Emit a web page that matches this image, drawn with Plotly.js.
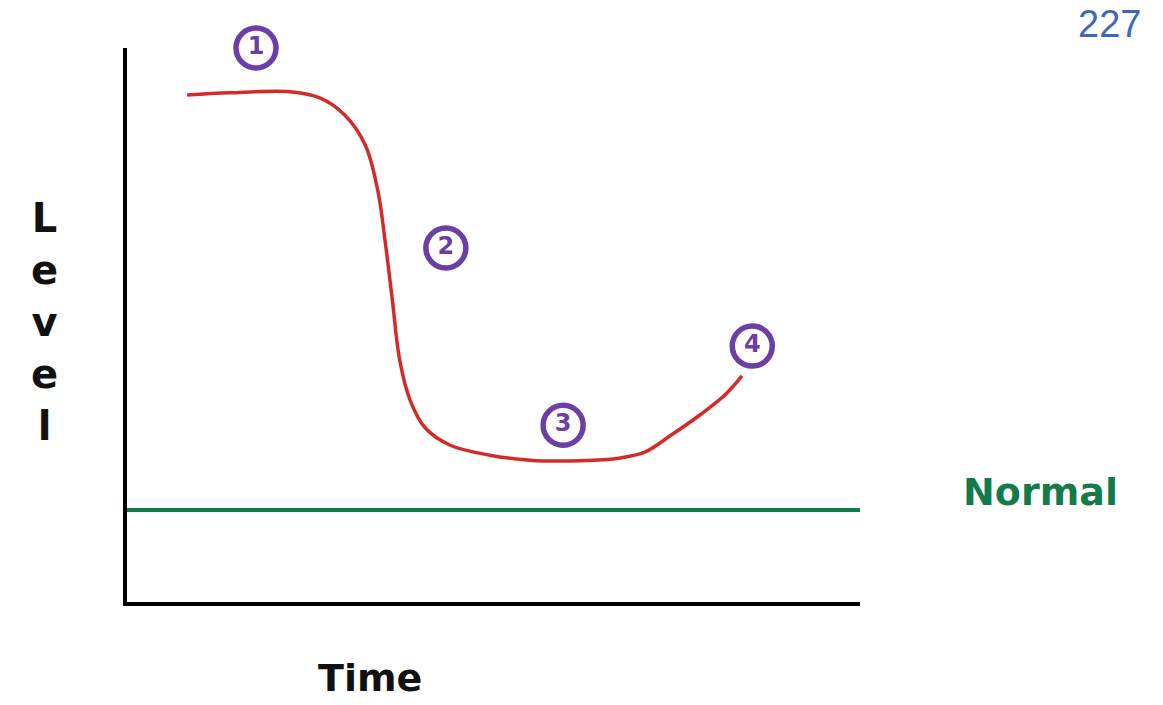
<!DOCTYPE html>
<html>
<head>
<meta charset="utf-8">
<script src="https://cdn.plot.ly/plotly-3.0.1.min.js"></script>
<style>html,body{margin:0;padding:0;background:#fff;}#chart{width:1163px;height:705px;}</style>
</head>
<body>
<div id="chart"></div>
<script>
// Level curve over time (arbitrary units 0-100)
const curveTime  = [8.2, 14.0, 22.2, 26.3, 29.7, 32.5, 34.2, 35.2, 36.2, 37.2, 38.6, 40.7, 44.1, 49.5, 55.0, 61.8, 67.3, 70.7, 74.1, 78.2, 81.6, 83.9];
const curveLevel = [91.5, 91.9, 92.1, 91.0, 87.9, 82.5, 74.4, 65.3, 54.5, 43.7, 36.5, 31.4, 28.3, 26.5, 25.6, 25.5, 26.0, 27.1, 30.0, 33.8, 37.4, 40.8];
const normalTime  = [0, 100];
const normalLevel = [16.6, 16.6];
// Phase markers
const phaseLabels = ["1", "2", "3", "4"];
const phaseTime   = [17.6, 43.5, 59.5, 85.3];
const phaseLevel  = [100, 63.9, 31.9, 46.2];

const hand = "'DejaVu Sans', sans-serif";

const traces = [
  {x: normalTime, y: normalLevel, mode: "lines", line: {color: "#137a4c", width: 4}, cliponaxis: false, hoverinfo: "skip"},
  {x: curveTime, y: curveLevel, mode: "lines", line: {color: "#d42a2a", width: 3.5, shape: "spline", smoothing: 1}, hoverinfo: "skip"},
  {x: phaseTime, y: phaseLevel, mode: "markers+text", text: phaseLabels, textposition: "middle center",
   cliponaxis: false,
   marker: {size: 40, color: "#ffffff", line: {color: "#6b3fa6", width: 5.5}},
   textfont: {family: hand, size: 24, color: "#6b3fa6", weight: "bold"}, hoverinfo: "skip"}
];

const layout = {
  width: 1163, height: 705,
  margin: {l: 127, r: 303, t: 48, b: 103},
  paper_bgcolor: "#ffffff", plot_bgcolor: "#ffffff",
  showlegend: false,
  xaxis: {range: [0, 100], showgrid: false, zeroline: false, showticklabels: false, ticks: "",
          showline: true, linecolor: "#000000", linewidth: 4},
  yaxis: {range: [0, 100], showgrid: false, zeroline: false, showticklabels: false, ticks: "",
          showline: true, linecolor: "#000000", linewidth: 4},
  annotations: [
    {xref: "paper", yref: "paper", x: 0.3315, y: -0.137, xanchor: "center", yanchor: "middle", text: "Time", showarrow: false,
     font: {family: hand, size: 38, color: "#111111", weight: "bold"}},
    {xref: "paper", yref: "paper", x: -0.113, y: 0.505, xanchor: "center", yanchor: "middle", text: "L<br>e<br>v<br>e<br>l", showarrow: false,
     font: {family: hand, size: 40, color: "#111111", weight: "bold"}},
    {xref: "paper", yref: "paper", x: 1.2456, y: 0.1986, xanchor: "center", yanchor: "middle", text: "Normal", showarrow: false,
     font: {family: hand, size: 38, color: "#137a4c", weight: "bold"}},
    {xref: "paper", yref: "paper", x: 1.341, y: 1.0848, xanchor: "center", yanchor: "top", text: "227", showarrow: false,
     font: {family: "Liberation Sans, Arial, sans-serif", size: 38, color: "#3d6ab3"}}
  ]
};

Plotly.newPlot("chart", traces, layout, {staticPlot: true, displayModeBar: false});
</script>
</body>
</html>
